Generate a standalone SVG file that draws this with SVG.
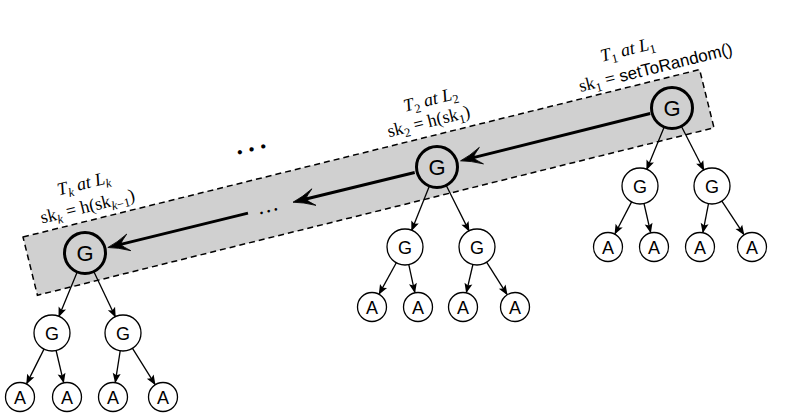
<svg xmlns="http://www.w3.org/2000/svg" width="789" height="420" viewBox="0 0 789 420">
<style>
.band{fill:#d0d0d0;stroke:#000;stroke-width:1.5;stroke-dasharray:6 4}
.big{fill:#d0d0d0;stroke:#000;stroke-width:3}
.sm{fill:#fff;stroke:#000;stroke-width:1.3}
.nt{font-family:"Liberation Sans",Arial,sans-serif;fill:#000;text-anchor:middle}
.e{stroke:#000;stroke-width:1.3;fill:none}
.main{stroke:#000;stroke-width:3;fill:none}
.lbl{font-family:"Liberation Serif","Times New Roman",serif;font-size:18px;fill:#000;text-anchor:middle}
.it{font-style:italic}
.sub{font-size:12.5px}
.sans{font-family:"Liberation Sans",Arial,sans-serif;font-size:17px}
</style>
<defs>
<marker id="ah" markerUnits="userSpaceOnUse" viewBox="-11 -5 14 10" refX="0" refY="0" markerWidth="14" markerHeight="10" orient="auto" overflow="visible">
<path d="M1,0 L-9,-4 L-7,0 L-9,4 Z" fill="#000"/>
</marker>
<marker id="ahb" markerUnits="userSpaceOnUse" viewBox="-15 -10 25 20" refX="0" refY="0" markerWidth="25" markerHeight="20" orient="auto" overflow="visible">
<path d="M8,0 Q-2,-2.5 -13.5,-8.5 Q-7,-3 -5,0 Q-7,3 -13.5,8.5 Q-2,2.5 8,0 Z" fill="#000" stroke="#000" stroke-width="0.8" stroke-linejoin="round"/>
</marker>
</defs>
<g id="band"><rect class="band" x="0" y="0" width="697" height="60" transform="translate(23,237) rotate(-13.9)"/></g>

<g id="labels">
<g transform="translate(629,55) rotate(-13.9)"><text class="lbl" x="0" y="0"><tspan class="it">T</tspan><tspan class="sub" dy="4">1</tspan><tspan dy="-4"> </tspan><tspan class="it">at</tspan> <tspan class="it">L</tspan><tspan class="sub" dy="4">1</tspan></text></g>
<g transform="translate(657,73) rotate(-13.9)"><text class="lbl" x="0" y="0">sk<tspan class="sub" dy="4">1</tspan><tspan dy="-4"> = </tspan><tspan class="sans">setToRandom()</tspan></text></g>
<g transform="translate(432,105) rotate(-13.9)"><text class="lbl" x="0" y="0"><tspan class="it">T</tspan><tspan class="sub" dy="4">2</tspan><tspan dy="-4"> </tspan><tspan class="it">at</tspan> <tspan class="it">L</tspan><tspan class="sub" dy="4">2</tspan></text></g>
<g transform="translate(430,127) rotate(-13.9)"><text class="lbl" x="0" y="0">sk<tspan class="sub" dy="4">2</tspan><tspan dy="-4"> = h(sk</tspan><tspan class="sub" dy="4">1</tspan><tspan dy="-4">)</tspan></text></g>
<g transform="translate(85,189) rotate(-13.9)"><text class="lbl" x="0" y="0"><tspan class="it">T</tspan><tspan class="sub it" dy="4">k</tspan><tspan dy="-4"> </tspan><tspan class="it">at</tspan> <tspan class="it">L</tspan><tspan class="sub it" dy="4">k</tspan></text></g>
<g transform="translate(89,212) rotate(-13.9)"><text class="lbl" x="0" y="0">sk<tspan class="sub it" dy="4">k</tspan><tspan dy="-4"> = h(sk</tspan><tspan class="sub it" dy="4">k</tspan><tspan class="sub">−1</tspan><tspan dy="-4">)</tspan></text></g>
<g transform="translate(252,151) rotate(-13.9)"><text class="lbl" x="0" y="0" style="font-size:36px">…</text></g>
<g transform="translate(269,212) rotate(-13.9)"><text class="lbl" x="0" y="0" style="font-size:22px">…</text></g>
</g>

<g id="connectors">
<path class="main" d="M650.2,113.5 L468.3,158.9" marker-end="url(#ahb)"/>
<path class="main" d="M414.7,172.5 L300.8,200.3" marker-end="url(#ahb)"/>
<path class="main" d="M248,213.1 L115.6,245.6" marker-end="url(#ahb)"/>

<path class="e" d="M664,127.4 L646.8,169.3" marker-end="url(#ah)"/>
<path class="e" d="M681.6,126.7 L703.8,170" marker-end="url(#ah)"/>
<path class="e" d="M631.6,201.9 L615,233.7" marker-end="url(#ah)"/>
<path class="e" d="M644,203.5 L650.6,232.4" marker-end="url(#ah)"/>
<path class="e" d="M708.5,203.7 L702.9,232.3" marker-end="url(#ah)"/>
<path class="e" d="M721.9,201.1 L743.8,234.4" marker-end="url(#ah)"/>

<path class="e" d="M429.2,186.5 L411.7,230.3" marker-end="url(#ah)"/>
<path class="e" d="M446.4,185.8 L469,230.9" marker-end="url(#ah)"/>
<path class="e" d="M396.3,262.8 L379.2,293.9" marker-end="url(#ah)"/>
<path class="e" d="M408.8,264.6 L414.8,292.3" marker-end="url(#ah)"/>
<path class="e" d="M472.9,264.5 L466.4,292.4" marker-end="url(#ah)"/>
<path class="e" d="M486.6,262.2 L507,294.3" marker-end="url(#ah)"/>

<path class="e" d="M77,272.4 L58.9,316.4" marker-end="url(#ah)"/>
<path class="e" d="M94,272 L115.3,316.7" marker-end="url(#ah)"/>
<path class="e" d="M44,349.1 L26.7,383.6" marker-end="url(#ah)"/>
<path class="e" d="M56.1,350.5 L63.6,382.4" marker-end="url(#ah)"/>
<path class="e" d="M120.2,350.8 L115.3,382.2" marker-end="url(#ah)"/>
<path class="e" d="M132.5,348.3 L155,384.3" marker-end="url(#ah)"/>
</g>

<g id="G1"><circle class="big" cx="672" cy="108" r="20.5"/><text class="nt" x="672" y="116" font-size="22">G</text></g>
<g id="G2"><circle class="big" cx="437" cy="167" r="20.5"/><text class="nt" x="437" y="175" font-size="22">G</text></g>
<g id="Gk"><circle class="big" cx="85" cy="253" r="20.5"/><text class="nt" x="85" y="261" font-size="22">G</text></g>

<g id="G1a"><circle class="sm" cx="640" cy="186" r="18"/><text class="nt" x="640" y="192.5" font-size="18">G</text></g>
<g id="G1b"><circle class="sm" cx="712" cy="186" r="18"/><text class="nt" x="712" y="192.5" font-size="18">G</text></g>
<g id="A1a"><circle class="sm" cx="608" cy="247" r="14.5"/><text class="nt" x="608" y="253.5" font-size="18">A</text></g>
<g id="A1b"><circle class="sm" cx="654" cy="247" r="14.5"/><text class="nt" x="654" y="253.5" font-size="18">A</text></g>
<g id="A1c"><circle class="sm" cx="700" cy="247" r="14.5"/><text class="nt" x="700" y="253.5" font-size="18">A</text></g>
<g id="A1d"><circle class="sm" cx="752" cy="247" r="14.5"/><text class="nt" x="752" y="253.5" font-size="18">A</text></g>

<g id="G2a"><circle class="sm" cx="405" cy="247" r="18"/><text class="nt" x="405" y="253.5" font-size="18">G</text></g>
<g id="G2b"><circle class="sm" cx="477" cy="247" r="18"/><text class="nt" x="477" y="253.5" font-size="18">G</text></g>
<g id="A2a"><circle class="sm" cx="372" cy="307" r="14.5"/><text class="nt" x="372" y="313.5" font-size="18">A</text></g>
<g id="A2b"><circle class="sm" cx="418" cy="307" r="14.5"/><text class="nt" x="418" y="313.5" font-size="18">A</text></g>
<g id="A2c"><circle class="sm" cx="463" cy="307" r="14.5"/><text class="nt" x="463" y="313.5" font-size="18">A</text></g>
<g id="A2d"><circle class="sm" cx="515" cy="307" r="14.5"/><text class="nt" x="515" y="313.5" font-size="18">A</text></g>

<g id="Gka"><circle class="sm" cx="52" cy="333" r="18"/><text class="nt" x="52" y="339.5" font-size="18">G</text></g>
<g id="Gkb"><circle class="sm" cx="123" cy="333" r="18"/><text class="nt" x="123" y="339.5" font-size="18">G</text></g>
<g id="Aka"><circle class="sm" cx="20" cy="397" r="14.5"/><text class="nt" x="20" y="403.5" font-size="18">A</text></g>
<g id="Akb"><circle class="sm" cx="67" cy="397" r="14.5"/><text class="nt" x="67" y="403.5" font-size="18">A</text></g>
<g id="Akc"><circle class="sm" cx="113" cy="397" r="14.5"/><text class="nt" x="113" y="403.5" font-size="18">A</text></g>
<g id="Akd"><circle class="sm" cx="163" cy="397" r="14.5"/><text class="nt" x="163" y="403.5" font-size="18">A</text></g>
</svg>
